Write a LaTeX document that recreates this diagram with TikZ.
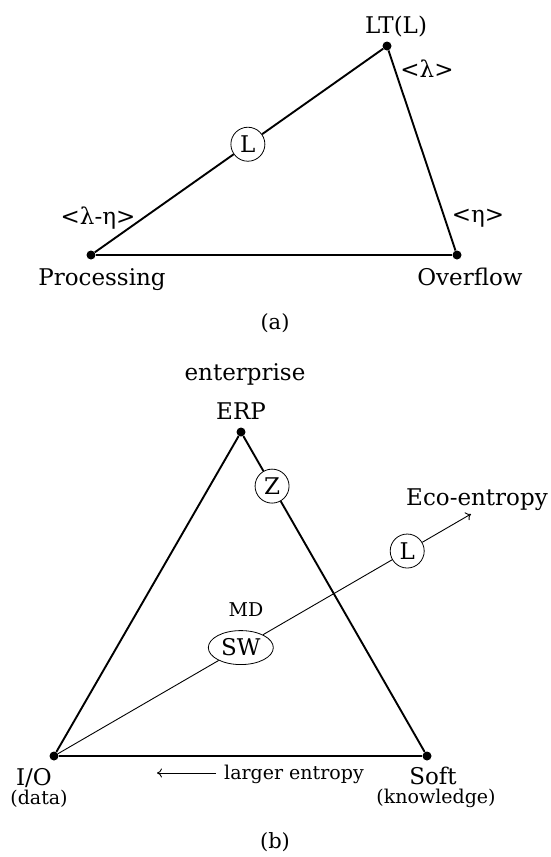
\documentclass[tikz,border=0pt]{standalone}
\usepackage{fontspec}
\setmainfont{DejaVu Serif}
\usetikzlibrary{calc,shapes.geometric,arrows.meta}

\begin{document}
\begin{tikzpicture}[x=1pt,y=-1pt,
    vertex/.style={circle,fill=black,inner sep=0pt,minimum size=9pt},
    ring/.style={circle,draw,line width=0.8pt,fill=white,minimum size=34pt,inner sep=0pt},
    lbl/.style={inner sep=0pt,font=\fontsize{23}{27}\selectfont},
    small/.style={inner sep=0pt,font=\fontsize{19}{22}\selectfont},
    side/.style={line width=1.9pt},
    ray/.style={line width=0.9pt},
    tip/.style={-{To[length=5pt,width=9pt]}}]
  \useasboundingbox (0,0) rectangle (551,857);
  % (a)
  \node[vertex] (proc) at (91,255) {};
  \node[vertex] (over) at (457,255) {};
  \node[vertex] (lt) at (387,46) {};
  \node[ring,font=\fontsize{23}{27}\selectfont] (la) at ($(proc)!0.53!(lt)$) {L};
  \draw[side] (proc) -- (la) ;
  \draw[side] (la) -- (lt) ;
  \draw[side] (lt) -- (over) ;
  \draw[side] (proc) -- (over) ;
  \node[lbl,anchor=base] (ltl) at (396,33) {LT(L)};
  \node[lbl] (lam) at (427,69) {<λ>};
  \node[lbl] (lameta) at (98,218) {<λ-η>};
  \node[lbl] (eta) at (478,218) {<η>};
  \node[lbl,anchor=base] (proct) at (102,285) {Processing};
  \node[lbl,anchor=base] (overt) at (470,285) {Overflow};
  \node[small,font=\fontsize{21}{24}\selectfont] (capa) at (275,323) {(a)};
  % (b)
  \node[vertex] (erp) at (241,432) {};
  \node[vertex] (io) at (54,756) {};
  \node[vertex] (soft) at (427,756) {};
  \coordinate (ecotip) at (471,514);
  \node[ring,font=\fontsize{23}{27}\selectfont] (z) at ($(erp)!0.167!(soft)$) {Z};
  \node[ellipse,draw,line width=0.8pt,fill=white,minimum width=65pt,minimum height=34pt,inner sep=0pt,
        font=\fontsize{23}{27}\selectfont] (sw) at ($(io)!0.448!(ecotip)$) {SW};
  \node[ring,font=\fontsize{23}{27}\selectfont] (lb) at ($(io)!0.847!(ecotip)$) {L};
  \draw[ray] (io) -- (sw) ;
  \draw[ray] (sw) -- (lb) ;
  \draw[ray,tip] (lb) -- (ecotip) ;
  \draw[side] (io) -- (erp) ;
  \draw[side] (erp) -- (z) ;
  \draw[side] (z) -- (soft) ;
  \draw[side] (io) -- (soft) ;
  \node[lbl,anchor=base] (ent) at (245,380) {enterprise};
  \node[lbl,anchor=base] (erpt) at (241,419) {ERP};
  \node[lbl,anchor=base] (eco) at (477,505) {Eco-entropy};
  \node[small] (md) at (246,610) {MD};
  \node[lbl,anchor=base] (iot) at (34,785) {I/O};
  \node[small] (data) at (39,799) {(data)};
  \node[lbl,anchor=base] (softt) at (433,784) {Soft};
  \node[small] (know) at (436,798) {(knowledge)};
  \node[small,anchor=base,inner xsep=8pt] (larger) at (294,779) {larger entropy};
  \coordinate (lgend) at (157,773);
  \draw[ray,tip] (larger.west |- lgend) -- (lgend) ;
  \node[small,font=\fontsize{21}{24}\selectfont] (capb) at (275,842) {(b)};
\end{tikzpicture}
\end{document}
